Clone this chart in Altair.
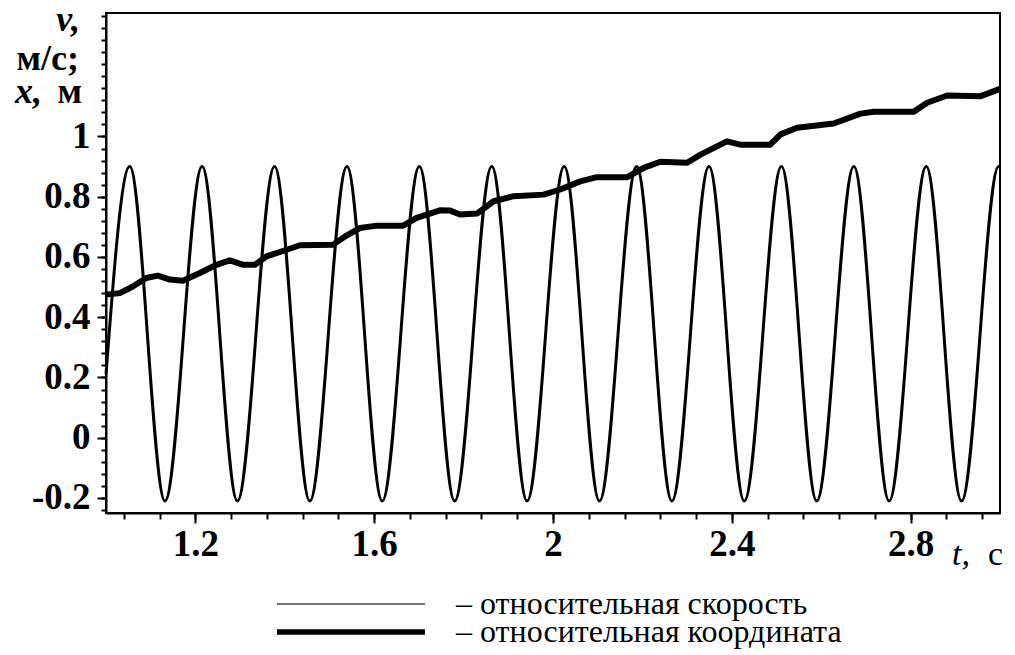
import altair as alt
import pandas as pd

FONT = "Liberation Serif"

# Relative velocity, m/s: start, then alternating maxima and minima of the oscillation
vel_t = [1.000, 1.053, 1.132, 1.215, 1.294, 1.377, 1.456, 1.539, 1.618, 1.701,
         1.780, 1.863, 1.942, 2.025, 2.104, 2.187, 2.266, 2.349, 2.428, 2.511,
         2.590, 2.673, 2.752, 2.835, 2.914, 2.997, 3.000]
vel_v = [0.21, 0.90, -0.21, 0.90, -0.21, 0.90, -0.21, 0.90, -0.21, 0.90,
         -0.21, 0.90, -0.21, 0.90, -0.21, 0.90, -0.21, 0.90, -0.21, 0.90,
         -0.21, 0.90, -0.21, 0.90, -0.21, 0.90, 0.898]

# Relative coordinate, m
pos_t = [1.000, 1.031, 1.060, 1.090, 1.116, 1.143, 1.172, 1.210, 1.247, 1.277,
         1.307, 1.333, 1.359, 1.404, 1.434, 1.508, 1.538, 1.568, 1.606, 1.665,
         1.695, 1.747, 1.770, 1.792, 1.830, 1.867, 1.912, 1.979, 2.016, 2.061,
         2.098, 2.166, 2.203, 2.240, 2.300, 2.330, 2.389, 2.419, 2.486, 2.509,
         2.546, 2.628, 2.688, 2.718, 2.807, 2.837, 2.882, 2.957, 3.000]
pos_x = [0.475, 0.480, 0.502, 0.530, 0.538, 0.525, 0.521, 0.547, 0.574, 0.589,
         0.574, 0.574, 0.602, 0.624, 0.639, 0.641, 0.671, 0.696, 0.704, 0.704,
         0.730, 0.755, 0.754, 0.741, 0.744, 0.785, 0.802, 0.807, 0.824, 0.851,
         0.865, 0.865, 0.896, 0.916, 0.913, 0.940, 0.984, 0.973, 0.973, 1.007,
         1.029, 1.043, 1.076, 1.082, 1.082, 1.112, 1.136, 1.134, 1.158]

series_names = ["– относительная скорость", "– относительная координата"]

x_major = [1.2, 1.6, 2.0, 2.4, 2.8]
y_major = [-0.2, 0.0, 0.2, 0.4, 0.6, 0.8, 1.0]
x_minor = [round(1.04 + 0.08 * i, 2) for i in range(25)]
y_minor = [round(-0.24 + 0.04 * i, 2) for i in range(42)]

vel_df = pd.DataFrame({"t": vel_t, "val": vel_v})
pos_df = pd.DataFrame({"t": pos_t, "val": pos_x})

x_scale = alt.Scale(domain=[1.0, 3.0], nice=False, zero=False)
y_scale = alt.Scale(domain=[-0.25, 1.41], nice=False, zero=False)

# minor tick marks on both axes
minor = alt.Chart(vel_df).mark_point(opacity=0).encode(
    x=alt.X("t:Q", scale=x_scale,
            axis=alt.Axis(values=x_minor, labels=False, domain=False, grid=False,
                          tickSize=6, tickWidth=2, orient="bottom", title=None)),
    y=alt.Y("val:Q", scale=y_scale,
            axis=alt.Axis(values=y_minor, labels=False, domain=False, grid=False,
                          tickSize=5, tickWidth=2, orient="left", title=None)),
)

velocity = alt.Chart(vel_df).mark_line(
    color="black", strokeWidth=3, interpolate="monotone"
).encode(
    x=alt.X("t:Q", scale=x_scale,
            axis=alt.Axis(values=x_major, orient="bottom", title=None, grid=False,
                          tickSize=10, labelPadding=3,
                          labelExpr="format(datum.value, '~g')")),
    y=alt.Y("val:Q", scale=y_scale,
            axis=alt.Axis(values=y_major, orient="left", title=None, grid=False,
                          tickSize=9, labelPadding=7,
                          labelExpr="datum.value < 0 ? '-' + format(-datum.value, '~g') : format(datum.value, '~g')")),
    order=alt.Order("t:Q"),
)

coordinate = alt.Chart(pos_df).mark_line(
    color="black", strokeWidth=6, strokeJoin="round", strokeCap="butt"
).encode(
    x=alt.X("t:Q", scale=x_scale, axis=None),
    y=alt.Y("val:Q", scale=y_scale, axis=None),
    order=alt.Order("t:Q"),
)

one = pd.DataFrame({"k": [0]})


def caption(text, x, y, style="normal", weight="bold", align="right", size=36,
            baseline="alphabetic"):
    return alt.Chart(one).mark_text(
        text=text, font=FONT, fontSize=size, fontStyle=style, fontWeight=weight,
        align=align, baseline=baseline, color="black",
    ).encode(x=alt.value(x), y=alt.value(y))


captions = [
    caption("v,", -26, 18, style="italic"),
    caption("м/с;", -27, 57),
    caption("x,", -64, 90, style="italic"),
    caption("м", -24, 90),
    caption("t,", 864, 552, style="italic", weight="normal", size=34),
    caption("с", 897, 552, weight="normal", size=34),
]


# key below the plot: a line sample and its description for each series
def key_row(i, y):
    sample = alt.Chart(one).mark_rule(
        color=["#444444", "black"][i], strokeWidth=[1.6, 5.5][i]
    ).encode(x=alt.value(171), x2=alt.value(319), y=alt.value(y))
    text = caption(series_names[i], 350, y, weight="normal", align="left",
                   size=32, baseline="middle")
    return [sample, text]


key = key_row(0, 591) + key_row(1, 619)

chart = alt.layer(minor, velocity, coordinate, *captions, *key).resolve_scale(
    x="independent", y="independent"
).properties(
    width=894,
    height=500,
    autosize=alt.AutoSizeParams(type="none"),
    padding={"left": 106, "top": 13, "right": 15, "bottom": 142},
    background="white",
).configure_view(
    stroke="black", strokeWidth=2
).configure_axis(
    labelFont=FONT, labelFontSize=37, labelFontWeight="bold", labelColor="black",
    tickColor="black", tickWidth=2, domainColor="black", domainWidth=2,
)

chart.save("out.html", embed_options={"renderer": "svg", "actions": False})
